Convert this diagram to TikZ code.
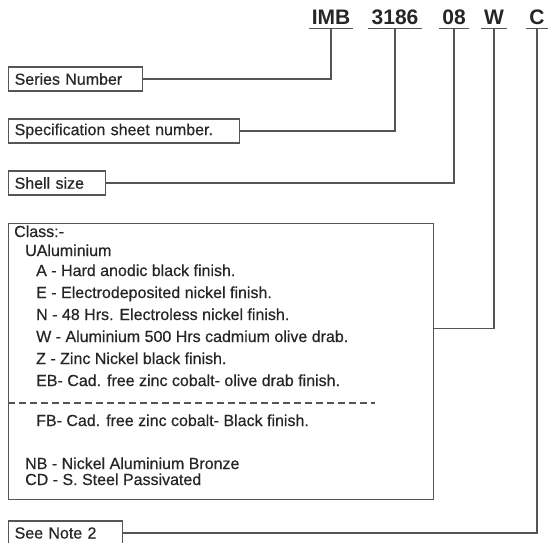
\documentclass[tikz,border=0pt]{standalone}
\usepackage{fontspec}
\setmainfont{Liberation Sans}
\newfontfamily\medfont{Liberation Sans}[FakeBold=0.5]
\definecolor{ink}{HTML}{262626}
\definecolor{rule}{HTML}{555555}
\begin{document}
\begin{tikzpicture}[x=1pt,y=-1pt,
  ln/.style={draw=rule,line width=1.3pt},
  ttl/.style={font=\fontsize{21}{24}\selectfont\bfseries, text=ink, anchor=base, inner xsep=3pt, inner ysep=4pt, text depth=0pt},
  box/.style={draw=rule, line width=1.3pt, anchor=west, inner xsep=6pt, inner ysep=0pt, minimum height=24pt, align=left, font=\medfont\fontsize{16}{19}\selectfont, text=ink},
  txt/.style={anchor=base west, inner sep=0pt, font=\medfont\fontsize{16}{19}\selectfont, text=ink}
]
\useasboundingbox (0,0) rectangle (548,542);
% code letters
\node[ttl] (imb) at (331,24) {IMB};
\node[ttl] (num) at (395,24) {3186};
\node[ttl] (sz)  at (454,24) {08};
\node[ttl] (cl)  at (494,24) {W};
\node[ttl] (mod) at (537,24) {C};
\foreach \n in {imb,num,sz,cl,mod}{\draw[ln] (\n.south west) -- (\n.south east);}
% boxes
\node[box, text width=122pt] (ser) at (8,79) {Series Number};
\node[box, text width=219pt] (spec) at (8,131) {Specification sheet number.};
\node[box, text width=85pt] (shell) at (8,183) {Shell size};
\node[box, text width=102pt] (note) at (8,533) {See Note 2};
\node[draw=rule, line width=1.3pt, minimum width=425pt, minimum height=276pt, anchor=north west, inner sep=0pt] (cls) at (8,223) {};
% class texts
\node[txt] (c0) at (14,237) {Class:-};
\node[txt] (c1) at (25,256) {UAluminium};
\node[txt] (c2) at (36,276) {A - Hard anodic black finish.};
\node[txt] (c3) at (36,298) {E - Electrodeposited nickel finish.};
\node[txt] (c4) at (36,320) {N - 48 Hrs. Electroless nickel finish.};
\node[txt] (c5) at (36,342) {W - Aluminium 500 Hrs cadmium olive drab.};
\node[txt] (c6) at (36,364) {Z - Zinc Nickel black finish.};
\node[txt] (c7) at (36,386) {EB- Cad. free zinc cobalt- olive drab finish.};
\node[txt] (c8) at (36,426) {FB- Cad. free zinc cobalt- Black finish.};
\node[txt] (c9) at (25,469) {NB - Nickel Aluminium Bronze};
\node[txt] (c10) at (25,485) {CD - S. Steel Passivated};
\coordinate (dl) at (8,403);
\coordinate (dr) at (375,403);
\draw[ln, line width=1.1pt, dash pattern=on 7pt off 4pt] (dl) -- (dr);
% connectors
\draw[ln] (imb.south) |- (ser.east);
\draw[ln] (num.south) |- (spec.east);
\draw[ln] (sz.south) |- (shell.east);
\draw[ln] (cl.south) |- ([yshift=33pt]cls.east);
\draw[ln] (mod.south) |- (note.east);
\end{tikzpicture}
\end{document}
